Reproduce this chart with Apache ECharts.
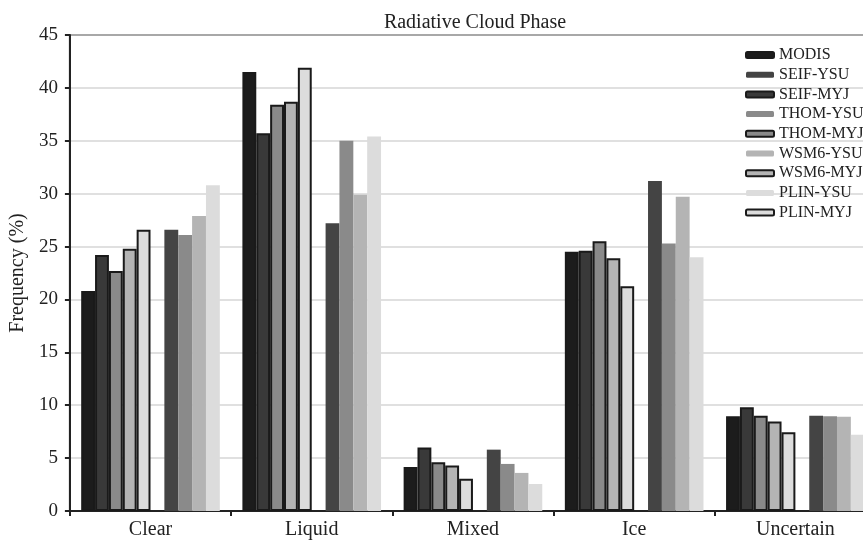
<!DOCTYPE html>
<html><head><meta charset="utf-8">
<script src="https://cdn.jsdelivr.net/npm/echarts@6/dist/echarts.min.js"></script>
<style>html,body{margin:0;padding:0;background:#fff;overflow:hidden}#c{width:880px;height:540px}</style>
</head><body><div id="c"></div>
<script>
const categories = ['Clear','Liquid','Mixed','Ice','Uncertain'];
const legendOrder = ['MODIS','SEIF-YSU','SEIF-MYJ','THOM-YSU','THOM-MYJ','WSM6-YSU','WSM6-MYJ','PLIN-YSU','PLIN-MYJ'];
const MODIS    = [20.8, 41.5, 4.15, 24.5, 8.95];
const SEIF_MYJ = [24.2, 35.7, 6.0, 24.6, 9.8];
const THOM_MYJ = [22.7, 38.4, 4.6, 25.5, 9.0];
const WSM6_MYJ = [24.8, 38.7, 4.3, 23.9, 8.45];
const PLIN_MYJ = [26.6, 41.9, 3.05, 21.25, 7.45];
const SEIF_YSU = [26.6, 27.2, 5.8, 31.2, 9.0];
const THOM_YSU = [26.1, 35.0, 4.45, 25.3, 8.95];
const WSM6_YSU = [27.9, 29.9, 3.6, 29.7, 8.9];
const PLIN_YSU = [30.8, 35.4, 2.55, 24.0, 7.2];
const yTicks = [0,5,10,15,20,25,30,35,40,45];

const serif = 'Liberation Serif';
function bar(name, data, color, bordered){
  return {name, type:'bar', data, barGap:'0%', barCategoryGap:'14%',
    itemStyle:{color, borderColor: bordered ? '#1a1a1a' : color, borderWidth: bordered ? 2 : 0},
    emphasis:{disabled:true}, animation:false};
}
const series = [
  bar('MODIS', MODIS, '#1c1c1c', true),
  bar('SEIF-MYJ', SEIF_MYJ, '#393939', true),
  bar('THOM-MYJ', THOM_MYJ, '#8a8a8a', true),
  bar('WSM6-MYJ', WSM6_MYJ, '#b4b4b4', true),
  bar('PLIN-MYJ', PLIN_MYJ, '#dcdcdc', true),
  bar('gap', categories.map(()=>null), 'rgba(0,0,0,0)', false),
  bar('SEIF-YSU', SEIF_YSU, '#444444', false),
  bar('THOM-YSU', THOM_YSU, '#8a8a8a', false),
  bar('WSM6-YSU', WSM6_YSU, '#b4b4b4', false),
  bar('PLIN-YSU', PLIN_YSU, '#dcdcdc', false)
];
const chart = echarts.init(document.getElementById('c'), null, {renderer:'canvas'});
chart.setOption({
  backgroundColor:'#ffffff',
  animation:false,
  title:{text:'Radiative Cloud Phase', left:470, top:8, textAlign:'center',
    textStyle:{fontFamily:serif, fontSize:20, fontWeight:'normal', color:'#222'}},
  legend:{data:legendOrder, orient:'vertical', left:745, top:47, padding:0, itemWidth:28, itemHeight:6,
    itemGap:3.7, textStyle:{fontFamily:serif, fontSize:16, color:'#222', lineHeight:16}},
  grid:{left:69, top:35, right:4, height:478, show:true, borderColor:'#222', borderWidth:2, backgroundColor:'transparent'},
  xAxis:{type:'category', data:categories,
    axisLine:{lineStyle:{color:'#222', width:2}},
    axisTick:{show:true, length:5, lineStyle:{color:'#222', width:2}},
    axisLabel:{fontFamily:serif, fontSize:20, color:'#222', margin:9}},
  yAxis:{type:'value', min:0, max:45, interval:5,
    name:'Frequency (%)', nameLocation:'middle', nameGap:39,
    nameTextStyle:{fontFamily:serif, fontSize:20, color:'#222'},
    axisLine:{show:true, lineStyle:{color:'#222', width:2}},
    axisTick:{show:true, length:5, lineStyle:{color:'#222', width:2}},
    axisLabel:{fontFamily:serif, fontSize:19, color:'#222', margin:12,
      formatter:v=> yTicks.includes(v) ? String(v) : ''},
    splitLine:{show:true, lineStyle:{color:'#d6d6d6', width:1.5}}},
  series
});
</script></body></html>
